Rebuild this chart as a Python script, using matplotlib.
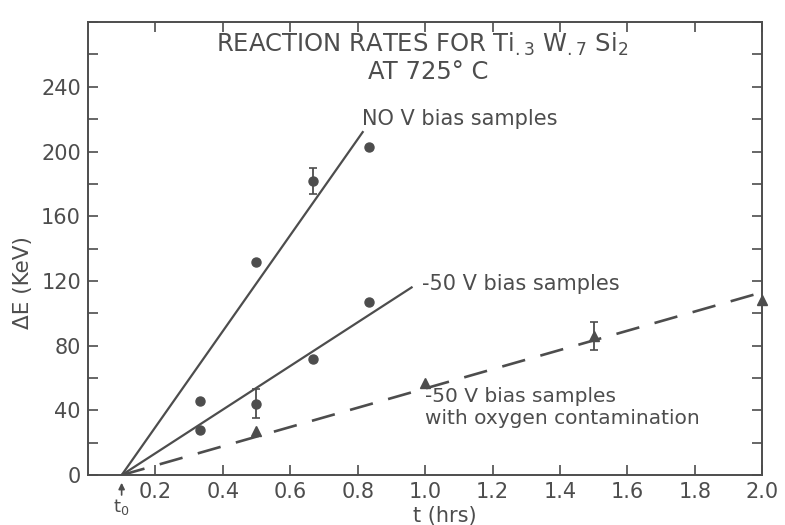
import numpy as np
import matplotlib
matplotlib.use('Agg')
import matplotlib.pyplot as plt
import matplotlib.ticker as ticker

# data (t in hrs, dE in KeV)
t0 = 0.1
t_nov = [0.333, 0.5, 0.667, 0.833]
e_nov = [46, 132, 182, 203]
err_nov = [0, 0, 8, 0]

t_50v = [0.333, 0.5, 0.667, 0.833]
e_50v = [28, 44, 72, 107]
err_50v = [0, 9, 0, 0]

t_ox = [0.5, 1.0, 1.5, 2.0]
e_ox = [27, 57, 86, 108]
err_ox = [0, 0, 8.5, 0]

# fitted rate lines: end time and end value
fit_nov = (0.815, 212)
fit_50v = (0.96, 116)
fit_ox = (2.0, 113)

ink = '#4d4d4d'
plt.rcParams['font.family'] = 'DejaVu Sans'

fig = plt.figure(figsize=(7.85, 5.25), dpi=100)
ax = fig.add_axes([0.112, 0.095, 0.859, 0.863])
ax.set_xlim(0, 2.0)
ax.set_ylim(0, 280)

# fit lines
ax.plot([t0, fit_nov[0]], [0, fit_nov[1]], color=ink, lw=1.6)
ax.plot([t0, fit_50v[0]], [0, fit_50v[1]], color=ink, lw=1.6)
ax.plot([t0, fit_ox[0]], [0, fit_ox[1]], color=ink, lw=1.9, dashes=(9, 6))

# points
ax.plot(t_nov, e_nov, 'o', color=ink, ms=6.5, clip_on=False)
ax.plot(t_50v, e_50v, 'o', color=ink, ms=6.5, clip_on=False)
ax.plot(t_ox, e_ox, '^', color=ink, ms=7, clip_on=False)
for tt, ee, er in zip(t_nov + t_50v + t_ox, e_nov + e_50v + e_ox,
                      err_nov + err_50v + err_ox):
    if er:
        ax.errorbar(tt, ee, yerr=er, fmt='none', ecolor=ink, elinewidth=1.3,
                    capsize=3, capthick=1.2)

# ticks
ax.yaxis.set_minor_locator(ticker.MultipleLocator(20))
ax.tick_params(axis='both', which='both', direction='in', colors=ink,
               labelsize=15, top=True, right=True, length=7, width=1.2)
ax.tick_params(axis='x', pad=5)
ax.tick_params(axis='y', pad=5)
ax.set_xticks(np.arange(0.2, 2.01, 0.2))
ax.set_xticklabels(['0.2', '0.4', '0.6', '0.8', '1.0', '1.2', '1.4', '1.6', '1.8', '2.0'])
ax.set_yticks(np.arange(0, 241, 40))
ax.set_yticklabels(['0', '40', '80', '120', '160', '200', '240'])
for s in ax.spines.values():
    s.set_color(ink)
    s.set_linewidth(1.4)

# titles and annotations
ax.text(0.99, 266, 'REACTION RATES FOR Ti$_{.3}$ W$_{.7}$ Si$_2$', ha='center',
        va='center', fontsize=17.5, color=ink)
ax.text(1.01, 249, 'AT 725° C', ha='center', va='center', fontsize=17.5, color=ink)
ax.text(0.813, 220, 'NO V bias samples', ha='left', va='center', fontsize=15, color=ink)
ax.text(0.99, 118, '-50 V bias samples', ha='left', va='center', fontsize=15, color=ink)
ax.text(1.0, 42, '-50 V bias samples\nwith oxygen contamination', ha='left',
        va='center', fontsize=14.5, color=ink, linespacing=1.2)

ax.annotate('', xy=(t0, -3), xytext=(t0, -14), xycoords='data',
            arrowprops=dict(arrowstyle='-|>', color=ink, lw=1.2, mutation_scale=9),
            annotation_clip=False)
ax.text(t0, -20, 't$_0$', ha='center', va='center', fontsize=13, color=ink, clip_on=False)

ax.set_xlabel('t (hrs)', fontsize=15, color=ink)
ax.xaxis.set_label_coords(0.53, -0.068)
ax.set_ylabel('ΔE (KeV)', fontsize=15.5, color=ink)
ax.yaxis.set_label_coords(-0.082, 0.424)

fig.savefig('out.png', dpi=100)
